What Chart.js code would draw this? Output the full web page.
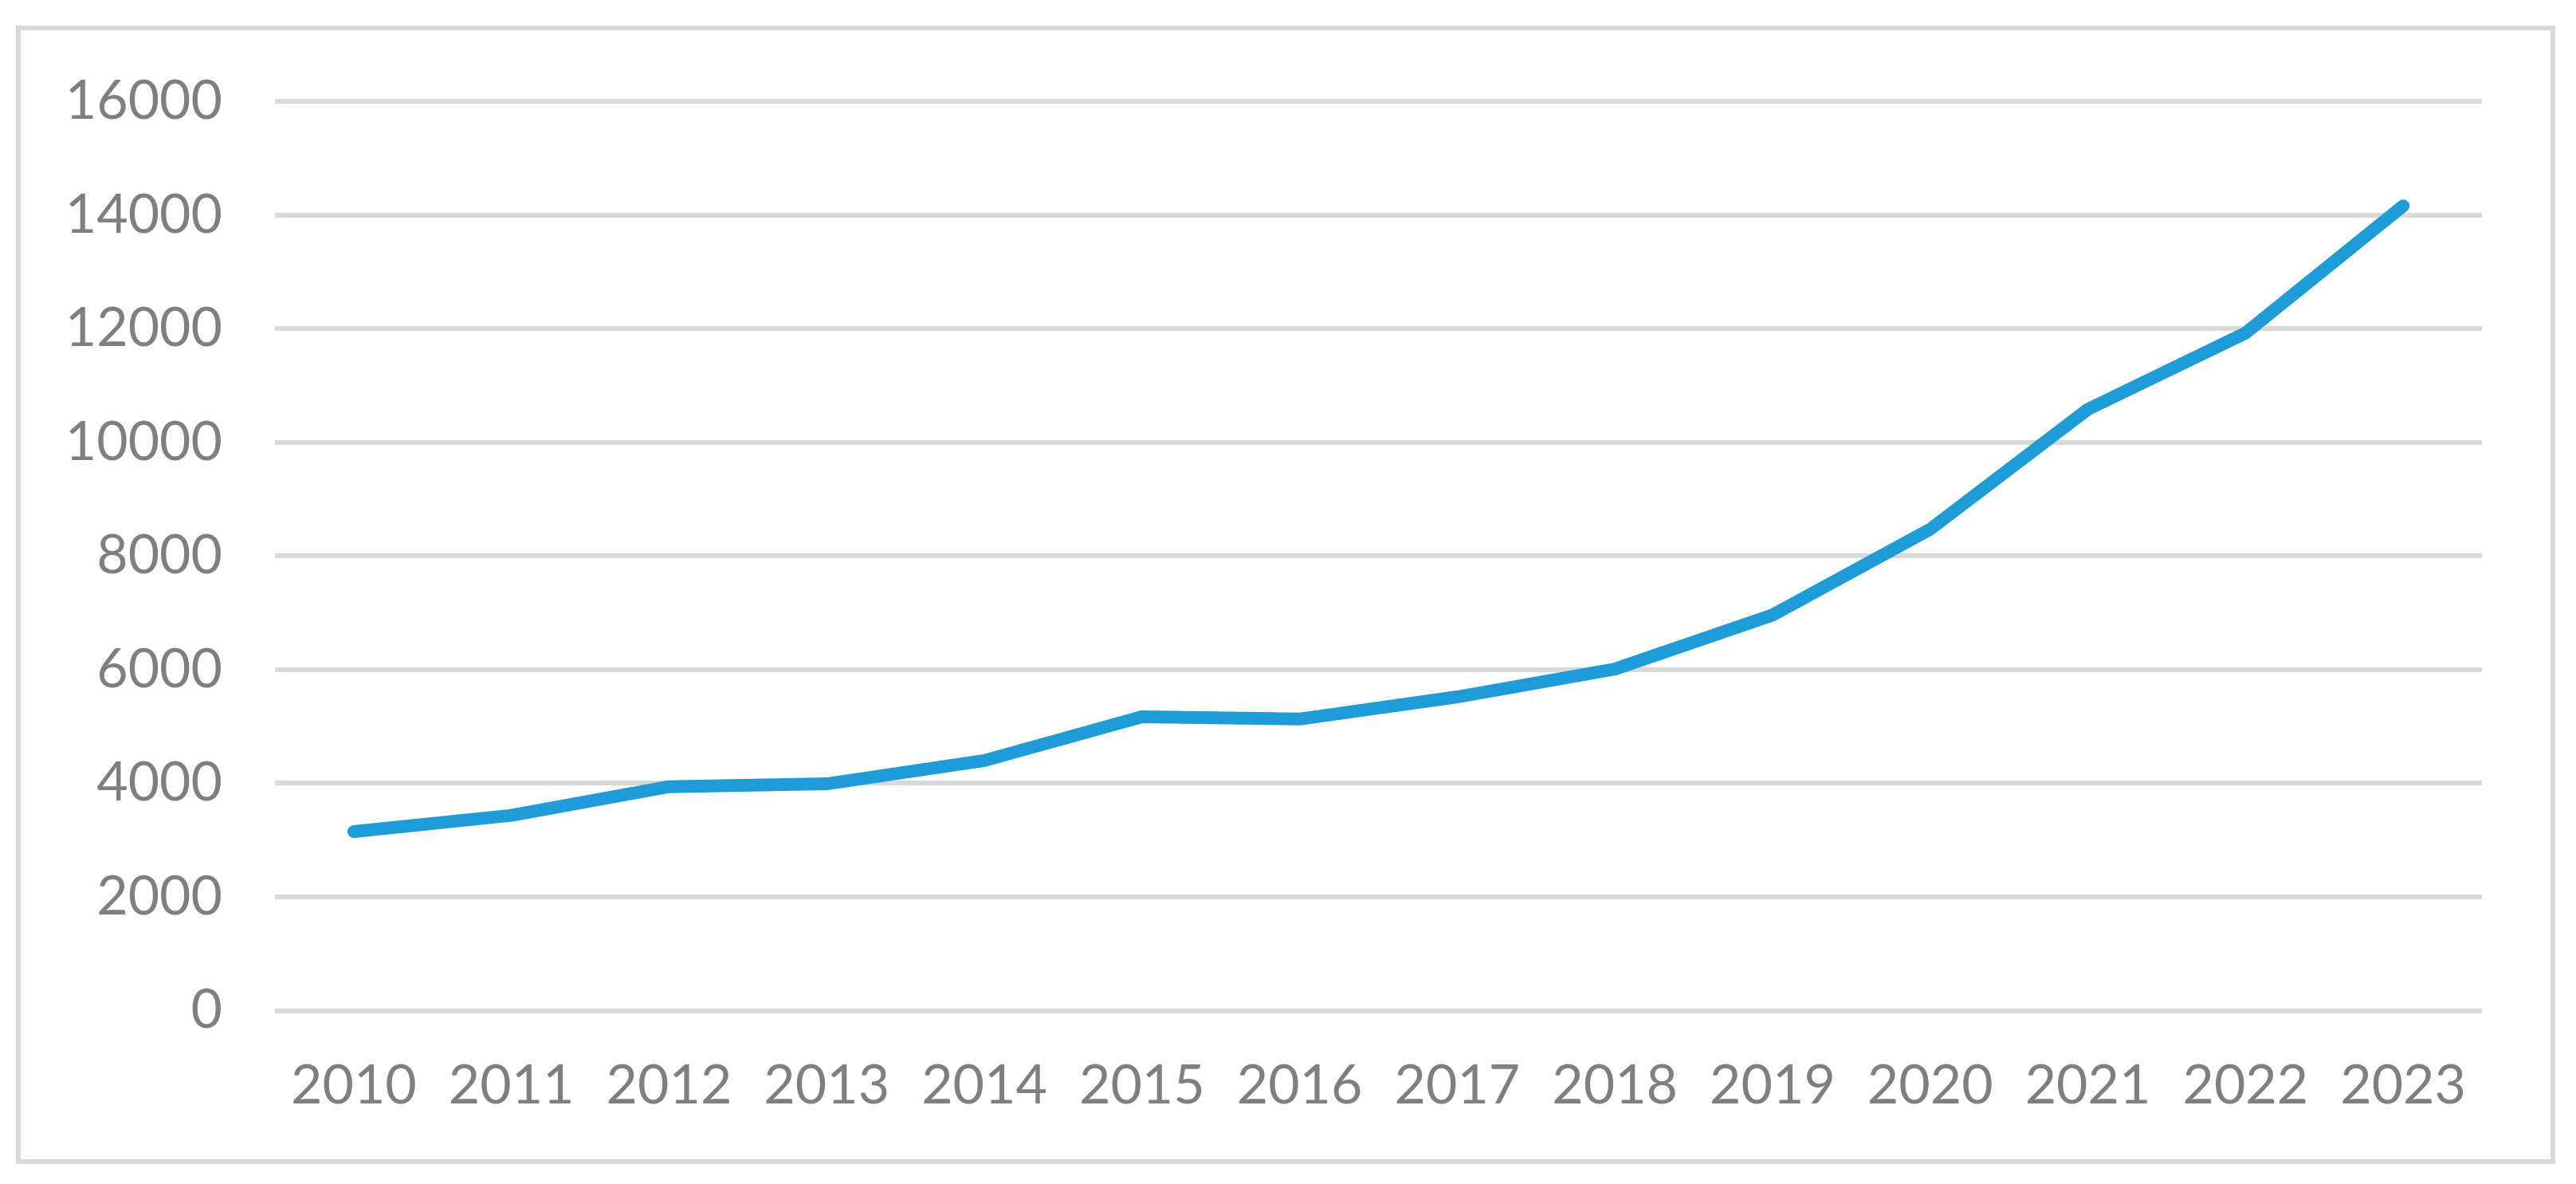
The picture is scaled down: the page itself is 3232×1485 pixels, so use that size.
<!DOCTYPE html>
<html>
<head>
<meta charset="utf-8">
<script src="https://cdn.jsdelivr.net/npm/chart.js@4/dist/chart.umd.min.js"></script>
<style>
  html, body { margin: 0; padding: 0; background: #ffffff; }
  #wrap { position: relative; width: 3232px; height: 1485px; }
  #frame { position: absolute; left: 20px; top: 32px; width: 3186px; height: 1428px; border: 6px solid #d9d9d9; box-sizing: border-box; }
  canvas { position: absolute; left: 0; top: 0; }
</style>
</head>
<body>
<div id="wrap">
  <div id="frame"></div>
  <canvas id="c" width="3232" height="1485"></canvas>
</div>
<script>
const years = ["2010","2011","2012","2013","2014","2015","2016","2017","2018","2019","2020","2021","2022","2023"];
const values = [3150, 3435, 3940, 3990, 4400, 5170, 5130, 5520, 6010, 6960, 8470, 10580, 11920, 14160];
const yTicks = [0, 2000, 4000, 6000, 8000, 10000, 12000, 14000, 16000];

function draw() {
  new Chart(document.getElementById('c'), {
    type: 'line',
    data: {
      labels: years,
      datasets: [{
        data: values,
        borderColor: '#1e9cd7',
        backgroundColor: '#1e9cd7',
        borderWidth: 16,
        borderCapStyle: 'round',
        borderJoinStyle: 'round',
        pointRadius: 0,
        tension: 0,
        fill: false
      }]
    },
    options: {
      responsive: false,
      animation: false,
      devicePixelRatio: 1,
      layout: { padding: { top: 127, right: 118, bottom: 0, left: 0 } },
      plugins: { legend: { display: false }, tooltip: { enabled: false } },
      scales: {
        x: {
          offset: true,
          grid: { display: false, drawTicks: false },
          border: { display: false },
          ticks: { color: '#7f7f7f', font: { family: 'Lato', size: 68 }, padding: 54, maxRotation: 0 },
          afterFit: (s) => { s.height = 217.5; }
        },
        y: {
          min: 0, max: 16000,
          afterBuildTicks: (s) => { s.ticks = yTicks.map(v => ({ value: v })); },
          grid: { color: '#d9d9d9', lineWidth: 6, drawTicks: false },
          border: { display: false },
          ticks: { color: '#7f7f7f', font: { family: 'Lato', size: 68 }, padding: 66, callback: (v) => String(v) },
          afterFit: (s) => { s.width = 345; }
        }
      }
    }
  });
}
document.fonts.load('68px Lato').then(draw, draw);
</script>
</body>
</html>
